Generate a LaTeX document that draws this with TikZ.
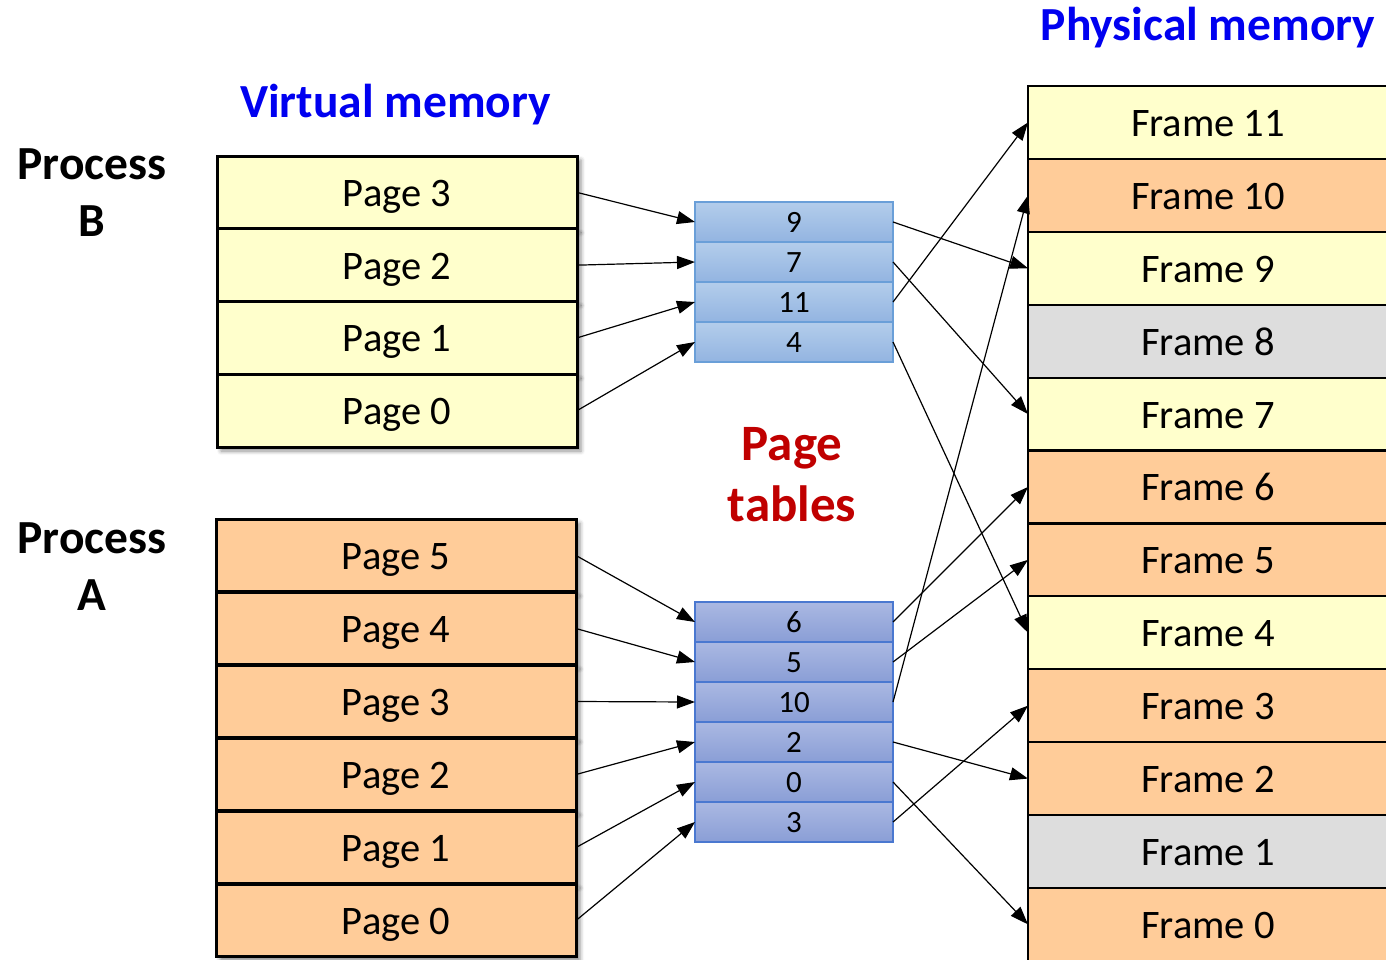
\documentclass[tikz,border=0pt]{standalone}
\usepackage{fontspec}
\setmainfont{Carlito}
\usetikzlibrary{arrows.meta,shadows.blur}

\definecolor{pgYellow}{HTML}{FFFFCC}
\definecolor{pgOrange}{HTML}{FFCC99}
\definecolor{pgGray}{HTML}{DDDDDD}
\definecolor{ptBtop}{HTML}{B3CDEB}
\definecolor{ptBbot}{HTML}{93B4E1}
\definecolor{ptBline}{HTML}{6A9FD8}
\definecolor{ptAtop}{HTML}{AAB8E2}
\definecolor{ptAbot}{HTML}{8A9ED6}
\definecolor{ptAline}{HTML}{4A78D0}
\definecolor{titleBlue}{HTML}{0000F0}
\definecolor{titleRed}{HTML}{C00000}

\begin{document}
\begin{tikzpicture}[x=1pt,y=-1pt,
  cell/.style={rectangle, inner sep=0pt, outer sep=0pt, text height=28pt, text depth=0pt,
    font=\fontsize{40.5}{48}\selectfont},
  vpage/.style={cell, draw=black, line width=3pt, minimum width=360pt, minimum height=72.8pt,
    blur shadow={shadow xshift=4pt, shadow yshift=-4pt, shadow blur radius=4pt, shadow opacity=45}},
  vpageB/.style={vpage, fill=pgYellow},
  vpageA/.style={vpage, fill=pgOrange},
  frame/.style={cell, draw=black, line width=2.2pt, minimum width=360pt, minimum height=72.9pt},
  ptcell/.style={rectangle, inner sep=0pt, outer sep=0pt, minimum width=198pt, minimum height=40pt,
    text height=20pt, text depth=0pt, font=\fontsize{31}{36}\selectfont, line width=1.5pt},
  ptB/.style={ptcell, draw=ptBline, top color=ptBtop, bottom color=ptBbot},
  ptA/.style={ptcell, draw=ptAline, top color=ptAtop, bottom color=ptAbot},
  heading/.style={inner sep=0pt, text=titleBlue, font=\fontsize{47.5}{57}\selectfont\bfseries},
  proclabel/.style={inner sep=0pt, align=center, font=\fontsize{47.5}{57}\selectfont\bfseries},
  ptlabel/.style={inner sep=0pt, align=center, text=titleRed, font=\fontsize{51}{61.7}\selectfont\bfseries},
  conn/.style={-{Triangle[length=18pt,width=13pt]}, line width=1.2pt}]

\useasboundingbox (0,0) rectangle (1386,959);
\clip (0,0) rectangle (1386,959);

% headings (multi-line nodes sit on the baseline of their last line)
\node[heading, anchor=base] (phys) at (1208,40.7) {Physical memory};
\node[heading, anchor=base] (virt) at (395.5,117.3) {Virtual memory};
\node[proclabel, anchor=base] (procB) at (92,236.7) {Process\\B};
\node[proclabel, anchor=base] (procA) at (92,610.7) {Process\\A};
\node[ptlabel, anchor=base] (ptl) at (792,521.7) {Page\\tables};

% virtual pages of process B
\foreach \n [count=\i from 0] in {3,2,1,0}
  \node[vpageB] (pb\n) at (397,192.4+72.75*\i) {Page \n};

% virtual pages of process A
\foreach \n [count=\i from 0] in {5,4,3,2,1,0}
  \node[vpageA] (pa\n) at (396,555.5+73*\i) {Page \n};

% page tables
\foreach \v [count=\i from 0] in {9,7,11,4}
  \node[ptB] (tb\i) at (794,222+40*\i) {\v};
\foreach \v [count=\i from 0] in {6,5,10,2,0,3}
  \node[ptA] (ta\i) at (794,622+40*\i) {\v};

% physical frames
\foreach \n/\c [count=\i from 0] in {11/pgYellow,10/pgOrange,9/pgYellow,8/pgGray,
    7/pgYellow,6/pgOrange,5/pgOrange,4/pgYellow,3/pgOrange,2/pgOrange,1/pgGray,0/pgOrange}
  \node[frame, fill=\c] (f\n) at (1208,122.45+72.9*\i) {Frame \n};

% pages to page-table entries
\draw[conn] (pb3.east) -- (tb0.west);
\draw[conn] (pb2.east) -- (tb1.west);
\draw[conn] (pb1.east) -- (tb2.west);
\draw[conn] (pb0.east) -- (tb3.west);
\draw[conn] (pa5.east) -- (ta0.west);
\draw[conn] (pa4.east) -- (ta1.west);
\draw[conn] (pa3.east) -- (ta2.west);
\draw[conn] (pa2.east) -- (ta3.west);
\draw[conn] (pa1.east) -- (ta4.west);
\draw[conn] (pa0.east) -- (ta5.west);

% page-table entries to frames
\draw[conn] (tb0.east) -- (f9.west);
\draw[conn] (tb1.east) -- (f7.west);
\draw[conn] (tb2.east) -- (f11.west);
\draw[conn] (tb3.east) -- (f4.west);
\draw[conn] (ta0.east) -- (f6.west);
\draw[conn] (ta1.east) -- (f5.west);
\draw[conn] (ta2.east) -- (f10.west);
\draw[conn] (ta3.east) -- (f2.west);
\draw[conn] (ta4.east) -- (f0.west);
\draw[conn] (ta5.east) -- (f3.west);
\end{tikzpicture}
\end{document}
